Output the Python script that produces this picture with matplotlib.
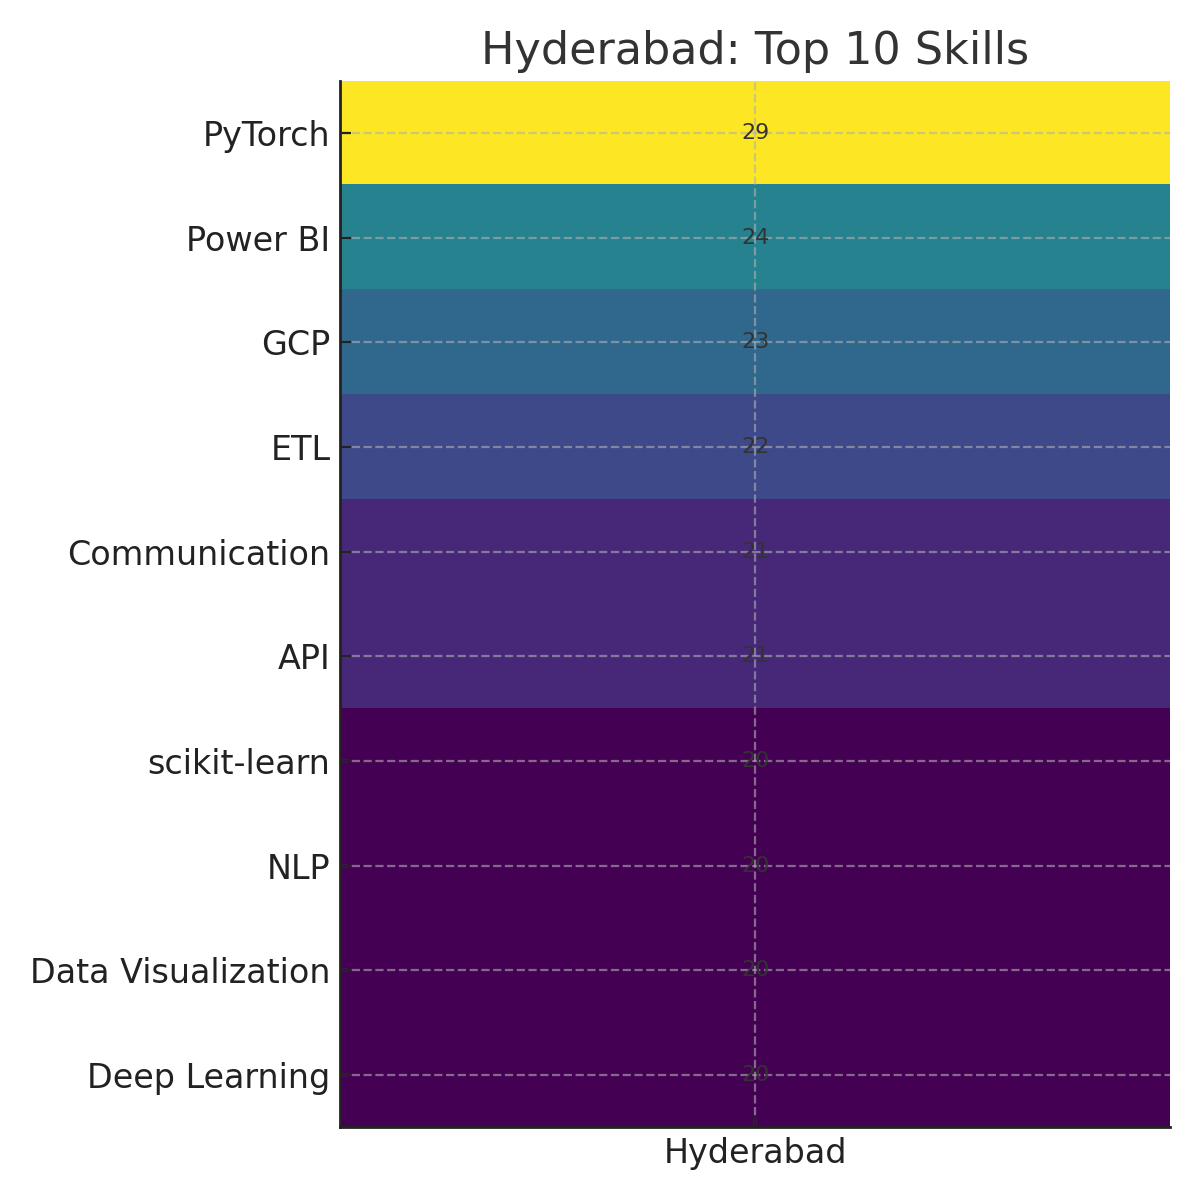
import numpy as np
import matplotlib
matplotlib.use("Agg")
import matplotlib.pyplot as plt

skills = ["PyTorch", "Power BI", "GCP", "ETL", "Communication", "API",
          "scikit-learn", "NLP", "Data Visualization", "Deep Learning"]
counts = [29, 24, 23, 22, 21, 21, 20, 20, 20, 20]
city = "Hyderabad"

data = np.array(counts).reshape(-1, 1)

fig, ax = plt.subplots(figsize=(6, 6), dpi=200)
ax.imshow(data, cmap="viridis", aspect="auto", vmin=min(counts), vmax=max(counts))

ax.set_xticks([0])
ax.set_xticklabels([city], fontsize=12, color="#222222")
ax.set_yticks(range(len(skills)))
ax.set_yticklabels(skills, fontsize=12, color="#222222")
ax.tick_params(direction="in", length=4, color="#222222")

for i, v in enumerate(counts):
    ax.text(0, i, str(v), ha="center", va="center", fontsize=8, color="#333333")

ax.grid(True, linestyle="--", color="#b0b0b0", alpha=0.6, linewidth=0.8)
for s in ["top", "right"]:
    ax.spines[s].set_visible(False)
for s in ["left", "bottom"]:
    ax.spines[s].set_color("#222222")
    ax.spines[s].set_linewidth(1.0)

ax.set_title("Hyderabad: Top 10 Skills", fontsize=16, color="#333333")
fig.tight_layout()
fig.savefig("out.png")
